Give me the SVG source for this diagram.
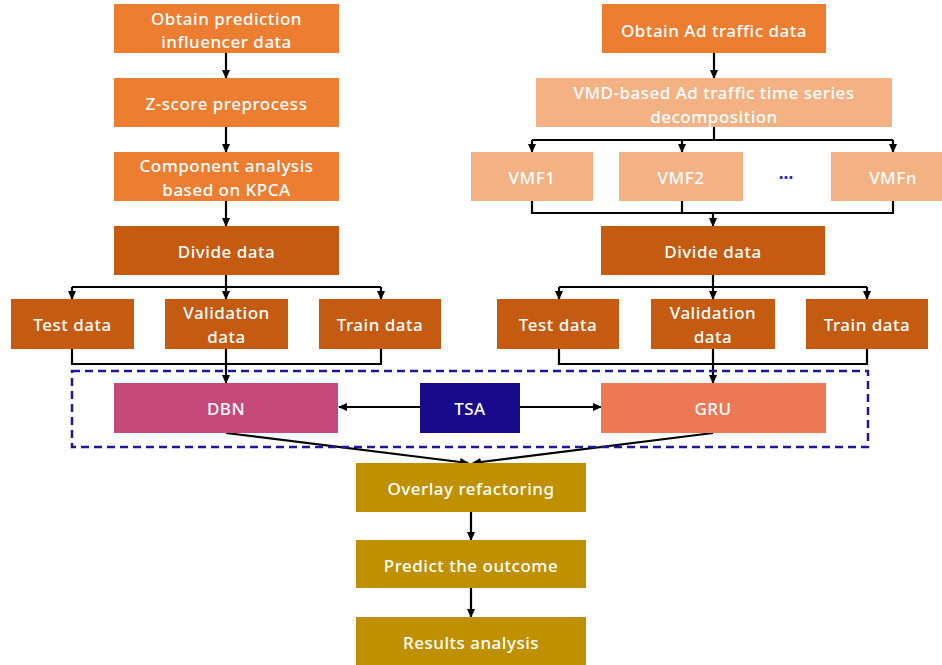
<svg xmlns="http://www.w3.org/2000/svg" width="942" height="665" viewBox="0 0 942 665">
<defs>
<marker id="ah" markerWidth="10" markerHeight="10" refX="8" refY="5" orient="auto" markerUnits="userSpaceOnUse">
<path d="M0,1 L9,5 L0,9 Z" fill="#000"/>
</marker>
<style>
.t{font-family:"Noto Sans","Open Sans","Liberation Sans",sans-serif;font-size:17px;font-weight:500;letter-spacing:0.5px;fill:#fff;text-anchor:middle;dominant-baseline:central}
.c{fill:none;stroke:#000;stroke-width:2.2}
.a{fill:none;stroke:#000;stroke-width:2.2;marker-end:url(#ah)}
.o{fill:#ED7D31}
.l{fill:#F4B183}
.d{fill:#C55A11}
.g{fill:#BF9000}
</style>
</defs>
<rect width="942" height="665" fill="#fff"/>
<g id="connectors">
<line class="a" x1="226" y1="53" x2="226" y2="78"/>
<line class="a" x1="226" y1="127" x2="226" y2="152"/>
<line class="a" x1="226" y1="201" x2="226" y2="226"/>
<path class="c" d="M226,275 V287 M72,287 H381"/>
<line class="a" x1="72" y1="287" x2="72" y2="299"/>
<line class="a" x1="226" y1="287" x2="226" y2="299"/>
<line class="a" x1="381" y1="287" x2="381" y2="299"/>
<path class="c" d="M72,349 V364 H381 V349"/>
<line class="a" x1="226" y1="349" x2="226" y2="383"/>
<line class="a" x1="714" y1="53" x2="714" y2="78"/>
<path class="c" d="M714,127 V140 M532,140 H893"/>
<line class="a" x1="532" y1="140" x2="532" y2="152"/>
<line class="a" x1="682" y1="140" x2="682" y2="152"/>
<line class="a" x1="893" y1="140" x2="893" y2="152"/>
<path class="c" d="M532,201 V213 H893 V201 M682,201 V213"/>
<line class="a" x1="713" y1="213" x2="713" y2="226"/>
<path class="c" d="M713,275 V287 M559,287 H867"/>
<line class="a" x1="559" y1="287" x2="559" y2="299"/>
<line class="a" x1="713" y1="287" x2="713" y2="299"/>
<line class="a" x1="867" y1="287" x2="867" y2="299"/>
<path class="c" d="M559,349 V364 H867 V349"/>
<line class="a" x1="713" y1="349" x2="713" y2="383"/>
<line class="a" x1="420" y1="407" x2="339" y2="407"/>
<line class="a" x1="520" y1="407" x2="601" y2="407"/>
<line class="a" x1="226" y1="433" x2="468" y2="463"/>
<line class="a" x1="713" y1="433" x2="473" y2="463"/>
<line class="a" x1="471" y1="512" x2="471" y2="540"/>
<line class="a" x1="471" y1="588" x2="471" y2="617"/>
</g>
<rect id="frame" x="72" y="371" width="796" height="76" fill="none" stroke="#1E1896" stroke-width="2.5" stroke-dasharray="8,5"/>
<g id="n1"><rect class="o" x="114" y="4" width="225" height="49"/><text class="t" x="226.5" y="18">Obtain prediction</text><text class="t" x="226.5" y="41">influencer data</text></g>
<g id="n2"><rect class="o" x="114" y="78" width="225" height="49"/><text class="t" x="226.5" y="103">Z-score preprocess</text></g>
<g id="n3"><rect class="o" x="114" y="152" width="225" height="49"/><text class="t" x="226.5" y="165">Component analysis</text><text class="t" x="226.5" y="189">based on KPCA</text></g>
<g id="n4"><rect class="d" x="114" y="226" width="225" height="49"/><text class="t" x="226.5" y="251">Divide data</text></g>
<g id="n5"><rect class="d" x="11" y="299" width="123" height="50"/><text class="t" x="72.5" y="324">Test data</text></g>
<g id="n6"><rect class="d" x="165" y="299" width="123" height="50"/><text class="t" x="226.5" y="312">Validation</text><text class="t" x="226.5" y="336">data</text></g>
<g id="n7"><rect class="d" x="319" y="299" width="122" height="50"/><text class="t" x="380" y="324">Train data</text></g>
<g id="n8"><rect class="o" x="602" y="4" width="224" height="49"/><text class="t" x="714" y="30">Obtain Ad traffic data</text></g>
<g id="n9"><rect class="l" x="536" y="78" width="356" height="49"/><text class="t" x="714" y="92">VMD-based Ad traffic time series</text><text class="t" x="714" y="116">decomposition</text></g>
<g id="n10"><rect class="l" x="471" y="152" width="122" height="49"/><text class="t" x="532" y="177">VMF1</text></g>
<g id="n11"><rect class="l" x="619" y="152" width="124" height="49"/><text class="t" x="681" y="177">VMF2</text></g>
<text x="786" y="177" font-family="Noto Sans,sans-serif" font-size="17" font-weight="bold" fill="#2020C0" text-anchor="middle" dominant-baseline="central">···</text>
<g id="n12"><rect class="l" x="831" y="152" width="111" height="49"/><text class="t" x="893" y="177">VMFn</text></g>
<g id="n13"><rect class="d" x="601" y="226" width="224" height="49"/><text class="t" x="713" y="251">Divide data</text></g>
<g id="n14"><rect class="d" x="497" y="299" width="122" height="50"/><text class="t" x="558" y="324">Test data</text></g>
<g id="n15"><rect class="d" x="651" y="299" width="124" height="50"/><text class="t" x="713" y="312">Validation</text><text class="t" x="713" y="336">data</text></g>
<g id="n16"><rect class="d" x="806" y="299" width="122" height="50"/><text class="t" x="867" y="324">Train data</text></g>
<g id="dbn"><rect x="114" y="383" width="224" height="50" fill="#C64A79"/><text class="t" x="226" y="408">DBN</text></g>
<g id="tsa"><rect x="420" y="383" width="100" height="50" fill="#190A8C"/><text class="t" x="470" y="408">TSA</text></g>
<g id="gru"><rect x="601" y="383" width="225" height="50" fill="#EC7856"/><text class="t" x="713" y="408">GRU</text></g>
<g id="n17"><rect class="g" x="356" y="463" width="230" height="49"/><text class="t" x="471" y="488">Overlay refactoring</text></g>
<g id="n18"><rect class="g" x="356" y="540" width="230" height="48"/><text class="t" x="471" y="565">Predict the outcome</text></g>
<g id="n19"><rect class="g" x="356" y="617" width="230" height="48"/><text class="t" x="471" y="642">Results analysis</text></g>
</svg>
